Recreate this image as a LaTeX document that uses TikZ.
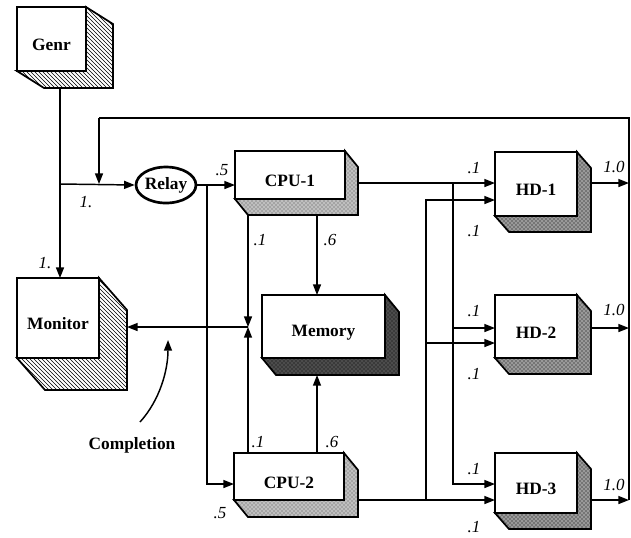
\documentclass[tikz,border=0pt]{standalone}
\usepackage{fontspec}
\setmainfont{Liberation Serif}
\usetikzlibrary{arrows.meta,patterns,shapes.geometric}
\tikzset{
  front/.style={draw, fill=white, line width=1.3pt, inner sep=0pt, outer sep=0pt},
  ext/.style={draw, line width=1.3pt, line join=miter},
  hatch/.style={pattern=north west lines},
  cpushade/.style={preaction={fill=black!25}, pattern=crosshatch dots, pattern color=black!70},
  hdshade/.style={preaction={fill=black!40}, pattern=crosshatch dots},
  memshade/.style={preaction={fill=black!70}, pattern=crosshatch dots},
  boxtext/.style={font=\bfseries\fontsize{13}{15}\selectfont, inner sep=0pt},
  num/.style={font=\itshape\fontsize{12.7}{14}\selectfont, inner sep=0pt},
  conn/.style={line width=1.1pt},
  arr/.style={conn, -{Triangle[length=8pt,width=6pt]}}
}
% name, x1, y1, x2, y2, dx, dy, shade style, text
\newcommand\tdbox[9]{%
  \pgfmathsetmacro\tdw{(#4-#2)*0.75}%
  \pgfmathsetmacro\tdh{(#5-#3)*0.75}%
  \node[front, minimum width=\tdw pt, minimum height=\tdh pt] (#1) at ({(#2+#4)/2},{(#3+#5)/2}) {};
  \path[ext,#8] (#1.north east) -- ++(#6,#7) -- ([shift={(#6,#7)}]#1.south east)
     -- ([shift={(#6,#7)}]#1.south west) -- (#1.south west) -- (#1.south east) -- cycle;
  \node[boxtext] (#1-txt) at ([shift={(0,6)}]#1.center) {#9};
}
\begin{document}
\begin{tikzpicture}[x=0.75pt,y=-0.75pt]
\useasboundingbox[fill=white] (0,0) rectangle (631,537);

% boxes
\tdbox{genr}{17}{7}{86}{71}{27}{17}{hatch}{Genr}
\tdbox{mon}{17}{278}{99}{358}{28}{32}{hatch}{Monitor}
\tdbox{cpu1}{235}{151}{345}{199}{13}{16}{cpushade}{CPU-1}
\tdbox{cpu2}{234}{453}{344}{500}{14}{17}{cpushade}{CPU-2}
\tdbox{mem}{262}{295}{385}{358}{14}{17}{memshade}{Memory}
\tdbox{hd1}{495}{152}{577}{216}{14}{16}{hdshade}{HD-1}
\tdbox{hd2}{495}{295}{577}{358}{14}{16}{hdshade}{HD-2}
\tdbox{hd3}{495}{453}{577}{513}{14}{16}{hdshade}{HD-3}

\node[ellipse, draw, line width=2pt, minimum width=40.5pt, minimum height=27pt,
      inner sep=0pt, font=\bfseries\fontsize{13}{15}\selectfont] (relay) at (166,185) {Relay};

% junction / port coordinates
\coordinate (gbot) at (60,88);
\coordinate (j1) at (60,184);
\coordinate (fbL) at (99,118);
\coordinate (fbR) at (629,118);
\coordinate (fbIn) at (99,184);
\coordinate (b1) at (207,184);
\coordinate (cpu2in) at (234,484);
\coordinate (cpu1out) at (358,183);
\coordinate (hd1a) at (495,183);
\coordinate (hd1b) at (495,200);
\coordinate (b2) at (453,183);
\coordinate (hd2a) at (495,328);
\coordinate (hd2b) at (495,343);
\coordinate (hd3a) at (495,484);
\coordinate (hd3b) at (495,500);
\coordinate (cpu2out) at (358,500);
\coordinate (b3) at (426,500);
\coordinate (c1d) at (248,215);
\coordinate (c2u) at (248,453);
\coordinate (mj) at (248,327);
\coordinate (monIn) at (127,327);
\coordinate (c1m) at (317,215);
\coordinate (c2m) at (317,453);
\coordinate (memT) at (317,295);
\coordinate (memB) at (317,375);
\coordinate (hd1o) at (591,183);
\coordinate (hd2o) at (591,328);
\coordinate (hd3o) at (591,500);
\coordinate (r1) at (629,183);
\coordinate (r2) at (629,328);
\coordinate (r3) at (629,500);
\coordinate (cs) at (140,422);
\coordinate (ce) at (168,340);

% connectors
\draw[conn] (gbot) -- (j1);
\draw[arr] (j1) -- (j1 |- mon.north);
\draw[arr] (j1) -- (relay.west);
\draw[conn] (r3) -- (fbR) -- (fbL);
\draw[arr] (fbL) -- (fbIn);
\draw[arr] (relay.east) -- (relay.east -| cpu1.west);
\draw[arr] (b1) |- (cpu2in);
\draw[arr] (cpu1out) -- (hd1a);
\draw[arr] (b2) |- (hd2a);
\draw[arr] (b2) |- (hd3a);
\draw[arr] (cpu2out) -- (hd3b);
\draw[arr] (b3) |- (hd1b);
\draw[arr] (b3) |- (hd2b);
\draw[arr] (c1d) -- (mj);
\draw[arr] (c2u) -- (mj);
\draw[arr] (mj) -- (monIn);
\draw[arr] (c1m) -- (memT);
\draw[arr] (c2m) -- (memB);
\draw[arr] (hd1o) -- (r1);
\draw[arr] (hd2o) -- (r2);
\draw[arr] (hd3o) -- (r3);
\draw[arr] (cs) .. controls (160,400) and (168,370) .. (ce);

% labels
\node[boxtext] (compl) at (132,445) {Completion};
\node[num] (l1) at (45,263) {1.};
\node[num] (l2) at (86,202) {1.};
\node[num] (l3) at (222,170) {.5};
\node[num] (l4) at (220,513) {.5};
\node[num] (l5) at (260,240) {.1};
\node[num] (l6) at (330,240) {.6};
\node[num] (l7) at (258,442) {.1};
\node[num] (l8) at (332,442) {.6};
\node[num] (l9) at (474,168) {.1};
\node[num] (l10) at (474,231) {.1};
\node[num] (l11) at (474,311) {.1};
\node[num] (l12) at (474,374) {.1};
\node[num] (l13) at (474,469) {.1};
\node[num] (l14) at (474,527) {.1};
\node[num] (l15) at (614,167) {1.0};
\node[num] (l16) at (614,310) {1.0};
\node[num] (l17) at (614,485) {1.0};
\end{tikzpicture}
\end{document}
